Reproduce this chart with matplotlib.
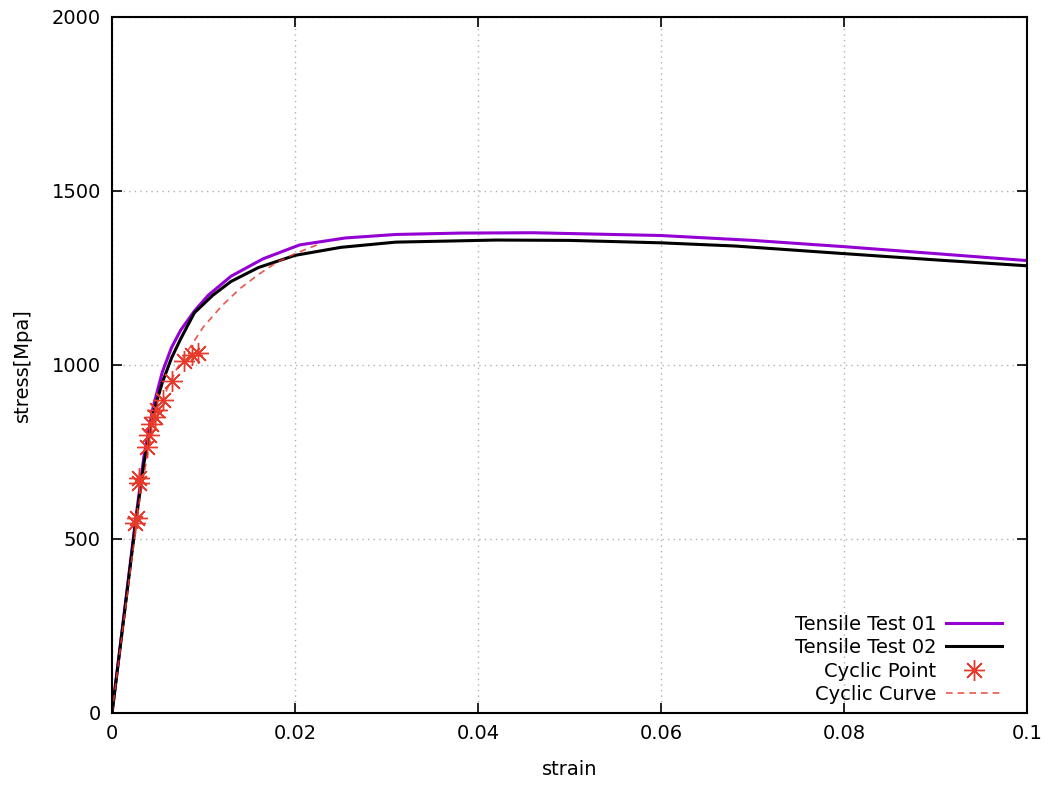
import matplotlib
matplotlib.use("Agg")
import matplotlib.pyplot as plt

# Tensile test curves
test01_strain = [0, 0.0025, 0.0035, 0.0045, 0.0055, 0.0065, 0.0075, 0.0090, 0.0105, 0.0130,
                 0.0165, 0.0205, 0.0255, 0.031, 0.038, 0.046, 0.060, 0.070, 0.080, 0.090, 0.100]
test01_stress = [0, 540, 740, 880, 980, 1050, 1100, 1155, 1200, 1255,
                 1305, 1345, 1365, 1375, 1379, 1380, 1372, 1358, 1340, 1320, 1300]

test02_strain = [0, 0.0025, 0.0035, 0.0045, 0.0055, 0.0065, 0.0075, 0.009, 0.011, 0.013,
                 0.016, 0.020, 0.025, 0.031, 0.042, 0.050, 0.060, 0.068, 0.080, 0.090, 0.100]
test02_stress = [0, 530, 720, 860, 950, 1020, 1075, 1150, 1200, 1240,
                 1280, 1315, 1338, 1353, 1359, 1358, 1351, 1342, 1320, 1302, 1285]

# Cyclic points (stabilised loops)
cyclic_strain = [0.0025, 0.0027, 0.0029, 0.0030, 0.0038, 0.0040, 0.0043, 0.0047,
                 0.0049, 0.0056, 0.0065, 0.0079, 0.0087, 0.0094]
cyclic_stress = [545, 560, 660, 675, 765, 800, 830, 850,
                 870, 900, 955, 1010, 1030, 1035]

# Fitted cyclic curve
curve_strain = [0, 0.002, 0.0027, 0.003, 0.004, 0.005, 0.006, 0.007, 0.008, 0.009,
                0.010, 0.012, 0.014, 0.016, 0.018, 0.020, 0.0224]
curve_stress = [0, 410, 550, 610, 760, 860, 930, 985, 1030, 1070,
                1110, 1170, 1220, 1260, 1295, 1320, 1345]

fig = plt.figure(figsize=(10.5, 7.86), dpi=100)
ax = fig.add_axes([0.1067, 0.0929, 0.8715, 0.8855])

ax.plot(test01_strain, test01_stress, color='#9400d3', lw=2.2, label='Tensile Test 01')
ax.plot(test02_strain, test02_stress, color='black', lw=2.2, label='Tensile Test 02')
ax.plot(cyclic_strain, cyclic_stress, ls='none', marker=(8, 2, 0), ms=15, mew=1.0,
        color='#e8392b', label='Cyclic Point')
ax.plot(curve_strain, curve_stress, color='#e8392b', ls=(0, (4, 3)), lw=1.2,
        alpha=0.85, label='Cyclic Curve')

ax.set_xlim(0, 0.1)
ax.set_ylim(0, 2000)
ax.set_xticks([0, 0.02, 0.04, 0.06, 0.08, 0.1])
ax.set_xticklabels(['0', '0.02', '0.04', '0.06', '0.08', '0.1'])
ax.set_yticks([0, 500, 1000, 1500, 2000])
ax.tick_params(direction='in', top=True, right=True, length=7, width=1.2,
               labelsize=14, pad=8)
ax.grid(True, color='#b0b0b0', ls=(0, (1, 3)), lw=1)
for s in ax.spines.values():
    s.set_linewidth(1.5)

ax.set_xlabel('strain', fontsize=14, labelpad=12)
ax.set_ylabel('stress[Mpa]', fontsize=14, labelpad=14)

ax.legend(loc='lower right', frameon=False, markerfirst=False, fontsize=14,
          handlelength=2.9, handletextpad=0.5, labelspacing=0.22,
          borderaxespad=0.5, bbox_to_anchor=(0.992, -0.012))

fig.savefig('out.png', dpi=100)
